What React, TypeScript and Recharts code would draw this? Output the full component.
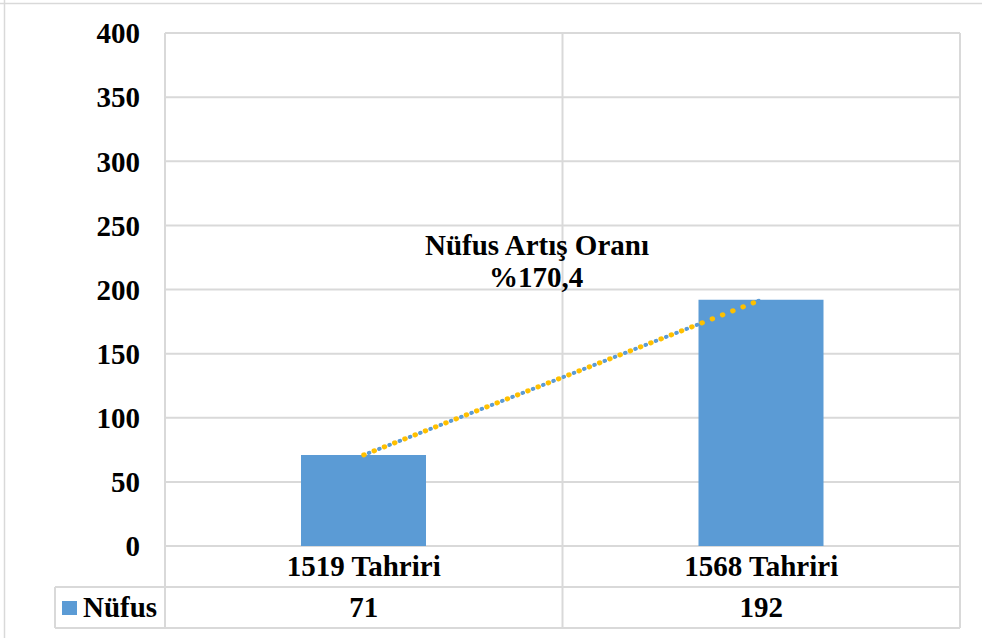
import React from 'react';
import { ComposedChart, Bar, Line, XAxis, YAxis, CartesianGrid, Customized } from 'recharts';

const categories = ['1519 Tahriri', '1568 Tahriri'];
const nufus = [71, 192];
const yTicks = [0, 50, 100, 150, 200, 250, 300, 350, 400];
const seriesName = 'Nüfus';
const annotationLines = ['Nüfus Artış Oranı', '%170,4'];

const data = categories.map((c, i) => ({ cat: c, nufus: nufus[i] }));

const W = 982;
const H = 638;
const M = { top: 33, right: 22, bottom: 10, left: 0 };
const YW = 165;
const XH = 82;
const plotLeft = M.left + YW;
const plotRight = W - M.right;
const plotTop = M.top;
const plotBottom = H - M.bottom - XH;
const rowH = XH / 2;
const legendLeft = 55;

const FONT = 'Liberation Serif';
const FS = 29;
const GRID = '#D9D9D9';
const BLUE = '#5B9BD5';
const YELLOW = '#FFC000';

const txt = { fontFamily: FONT, fontWeight: 700, fontSize: FS, fill: '#000' } as const;

const XTick = (props: any) => {
  const { x, y, payload } = props;
  const idx = categories.indexOf(payload.value);
  return (
    <g>
      <text x={x} y={y + 30} textAnchor="middle" style={txt}>
        {payload.value}
      </text>
      <text x={x} y={y + 71} textAnchor="middle" style={txt}>
        {nufus[idx]}
      </text>
    </g>
  );
};

const TableFrame = () => {
  const band = (plotRight - plotLeft) / categories.length;
  const vx = categories.map((_, i) => plotLeft + band * i).concat([plotRight]);
  return (
    <g>
      <line x1={4.5} y1={0} x2={4.5} y2={H} stroke={GRID} strokeWidth={1.5} />
      <line x1={0} y1={3.5} x2={W} y2={3.5} stroke={GRID} strokeWidth={1.5} />
      {vx.map((x, i) => (
        <line key={i} x1={x} y1={plotTop} x2={x} y2={plotBottom + XH} stroke={GRID} strokeWidth={2} />
      ))}
      <line x1={legendLeft} y1={plotBottom + rowH} x2={plotRight} y2={plotBottom + rowH} stroke={GRID} strokeWidth={2} />
      <line x1={legendLeft} y1={plotBottom + XH} x2={plotRight} y2={plotBottom + XH} stroke={GRID} strokeWidth={2} />
      <line x1={legendLeft} y1={plotBottom + rowH} x2={legendLeft} y2={plotBottom + XH} stroke={GRID} strokeWidth={2} />
      <rect x={62} y={601} width={15} height={14} fill={BLUE} />
      <text x={83} y={plotBottom + 71} style={txt}>
        {seriesName}
      </text>
      <text textAnchor="middle" style={txt}>
        <tspan x={537} y={255}>{annotationLines[0]}</tspan>
        <tspan x={536} y={287}>{annotationLines[1]}</tspan>
      </text>
    </g>
  );
};

export default function App() {
  return (
    <div style={{ position: 'absolute', left: 0, top: 0, width: W, height: H, background: '#fff', fontFamily: FONT }}>
      <ComposedChart width={W} height={H} data={data} margin={M} style={{ fontFamily: FONT }}>
        <CartesianGrid horizontal vertical={false} stroke={GRID} strokeWidth={2} />
        <YAxis
          width={YW}
          domain={[0, 400]}
          ticks={yTicks}
          interval={0}
          axisLine={false}
          tickLine={false}
          tickSize={0}
          tickMargin={25}
          tick={{ style: txt, fontFamily: FONT, fontWeight: 700, fontSize: FS, fill: '#000' }}
        />
        <XAxis
          dataKey="cat"
          height={XH}
          axisLine={false}
          tickLine={false}
          tickSize={0}
          tickMargin={0}
          interval={0}
          tick={<XTick />}
        />
        <Customized component={TableFrame} />
        <Bar dataKey="nufus" fill={BLUE} barSize={125} isAnimationActive={false} />
        <Line
          dataKey="nufus"
          stroke={BLUE}
          strokeWidth={4}
          strokeDasharray="0.5 10.5"
          strokeDashoffset={5.5}
          strokeLinecap="round"
          dot={false}
          activeDot={false}
          legendType="none"
          isAnimationActive={false}
        />
        <Line
          dataKey="nufus"
          stroke={YELLOW}
          strokeWidth={5}
          strokeDasharray="0.5 10.5"
          strokeLinecap="round"
          dot={false}
          activeDot={false}
          legendType="none"
          isAnimationActive={false}
        />
      </ComposedChart>
    </div>
  );
}
